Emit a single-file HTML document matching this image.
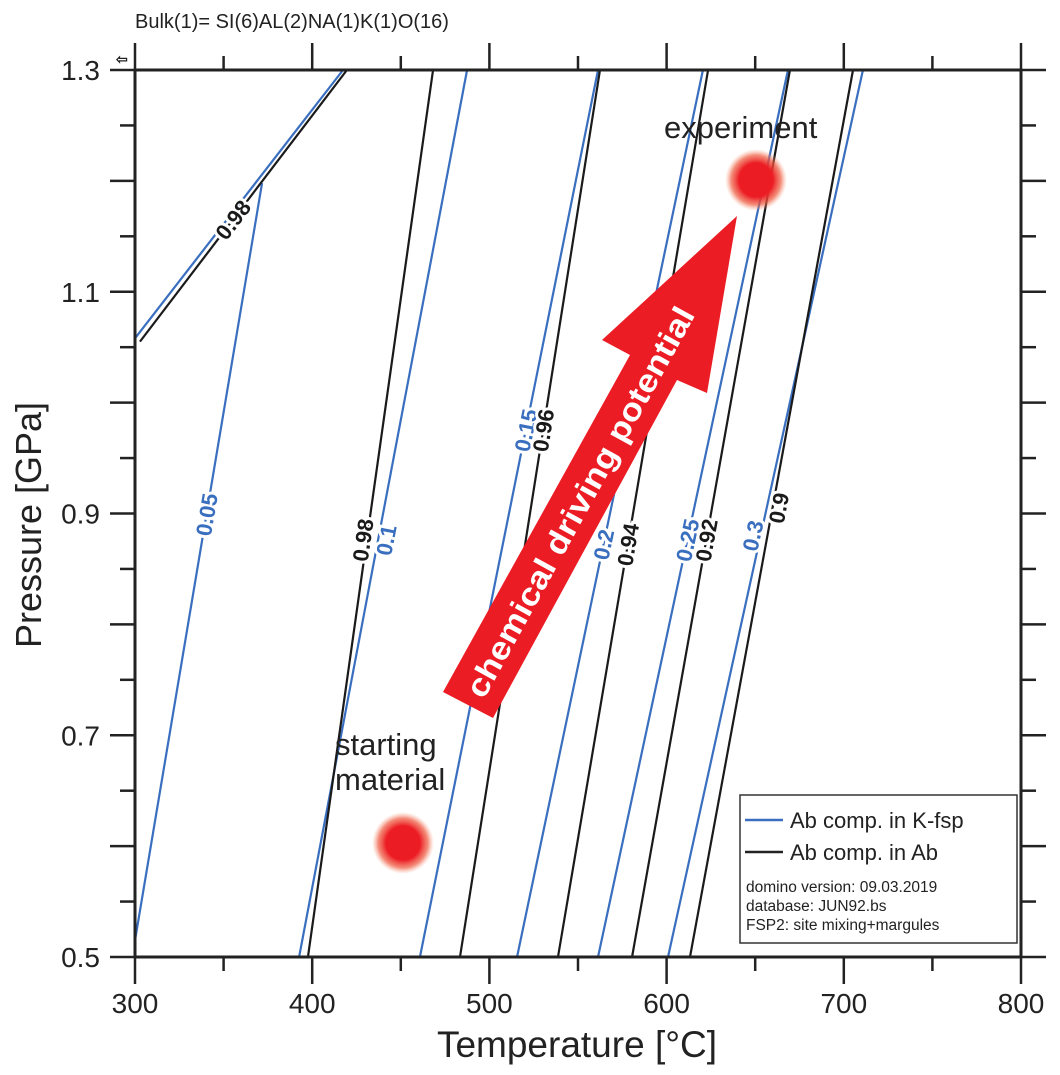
<!DOCTYPE html>
<html><head><meta charset="utf-8">
<style>
html,body{margin:0;padding:0;background:#fff;}
svg{display:block;font-family:"Liberation Sans",sans-serif;}
</style></head>
<body>
<svg id="chart" width="1060" height="1075" viewBox="0 0 1060 1075">
<defs>
<radialGradient id="dot" cx="50%" cy="50%" r="50%">
<stop offset="0%" stop-color="#ec1c24"/><stop offset="55%" stop-color="#ec1c24"/>
<stop offset="80%" stop-color="#ef5a40" stop-opacity="0.7"/><stop offset="100%" stop-color="#f6a080" stop-opacity="0"/>
</radialGradient>
</defs>
<text x="135" y="28" font-size="20" font-family="'Liberation Sans Narrow','Liberation Sans',sans-serif" fill="#222">Bulk(1)= SI(6)AL(2)NA(1)K(1)O(16)</text>
<text x="116" y="64" font-size="14" font-weight="bold" fill="#222">⇦</text>
<g id="lines"></g>
<g id="labels"></g>
<g id="axes"></g>
<g>
<polygon points="443,692 630,355 602,340 737,216 707,393 677,380 493,718" fill="#ec1c24"/>
<text transform="translate(580,502) rotate(-61.2)" text-anchor="middle" font-size="32" font-weight="bold" fill="#fff" dy="11" textLength="440" lengthAdjust="spacingAndGlyphs">chemical driving potential</text>
</g>
<circle cx="403" cy="843" r="31" fill="url(#dot)"/>
<circle cx="756" cy="180" r="31" fill="url(#dot)"/>
<text x="335" y="755" font-size="31" fill="#222">starting</text>
<text x="335" y="790" font-size="31" fill="#222">material</text>
<text x="664" y="138" font-size="31" fill="#222">experiment</text>
<g>
<rect x="740" y="795" width="277" height="148" fill="#fff" stroke="#333" stroke-width="1.5"/>
<line x1="745" y1="820" x2="783" y2="820" stroke="#3a6fbf" stroke-width="2.5"/>
<text x="790" y="828" font-size="22" fill="#222">Ab comp. in K-fsp</text>
<line x1="745" y1="852" x2="783" y2="852" stroke="#222" stroke-width="2.5"/>
<text x="790" y="860" font-size="22" fill="#222">Ab comp. in Ab</text>
<g font-size="15.5" font-family="'Liberation Sans Narrow','Liberation Sans',sans-serif" fill="#222">
<text x="746" y="892">domino version: 09.03.2019</text>
<text x="746" y="911">database: JUN92.bs</text>
<text x="746" y="930">FSP2: site mixing+margules</text>
</g>
</g>
</svg>
<script>
// data: each isopleth is a straight segment from (T0,P0) to (T1,P1)
const lineNames = ["0.05","0.1","0.15","0.2","0.25","0.3","0.98","0.98","0.96","0.94","0.92","0.9","0.05-upper"];
const lineKinds = ["kfsp","kfsp","kfsp","kfsp","kfsp","kfsp","ab","ab","ab","ab","ab","ab","kfsp"];
const lineT0 = [300,392.6,460.8,515.6,561.3,600.8,397.6,302.8,483.4,538.7,580.5,613.2,300];
const lineP0 = [0.515,0.5,0.5,0.5,0.5,0.5,0.5,1.055,0.5,0.5,0.5,0.5,1.058];
const lineT1 = [371.7,487.4,561.3,620.5,668.5,710.8,468.2,419.6,562.4,623.4,669.6,705.2,417.4];
const lineP1 = [1.198,1.3,1.3,1.3,1.3,1.3,1.3,1.3,1.3,1.3,1.3,1.3,1.3];
const labelText = ["0.05","0.1","0.15","0.2","0.25","0.3","0.98","0.98","0.96","0.94","0.92","0.9",""];
const labelP = [0.899,0.876,0.975,0.872,0.876,0.880,0.876,1.165,0.975,0.872,0.876,0.905,0];
const xTicks = [300,400,500,600,700,800];
const yTicks = [0.5,0.7,0.9,1.1,1.3];
// label nudges (pixels, style only) to keep paired labels side by side
const labelNudge = [0,8,0,0,0,-8,-4,0,0,0,0,6,0];

const X0=135,X1=1021,Y0=957,Y1=70;
const xs=t=>X0+(t-300)/500*(X1-X0);
const ys=p=>Y0-(p-0.5)/0.8*(Y0-Y1);
const NS="http://www.w3.org/2000/svg";
const mk=(tag,attrs,parent)=>{const e=document.createElementNS(NS,tag);for(const k in attrs)e.setAttribute(k,attrs[k]);parent.appendChild(e);return e;};
const gL=document.getElementById('lines'), gT=document.getElementById('labels'), gA=document.getElementById('axes');

for(let i=0;i<lineNames.length;i++){
  const col=lineKinds[i]==="kfsp"?"#3a6fbf":"#1a1a1a";
  const l=mk('line',{x1:xs(lineT0[i]),y1:ys(lineP0[i]),x2:xs(lineT1[i]),y2:ys(lineP1[i]),stroke:col,'stroke-width':2.2},gL);
  
  
  if(labelText[i]){
    const f=(labelP[i]-lineP0[i])/(lineP1[i]-lineP0[i]);
    const x=xs(lineT0[i])+f*(xs(lineT1[i])-xs(lineT0[i]))+labelNudge[i];
    const y=ys(labelP[i]);
    const ang=Math.atan2(ys(lineP1[i])-ys(lineP0[i]),xs(lineT1[i])-xs(lineT0[i]))*180/Math.PI;
    const t=mk('text',{transform:`translate(${x},${y}) rotate(${ang})`,'text-anchor':'middle',dy:8,'font-size':22,'font-weight':'bold','font-family':"'Liberation Sans Narrow','Liberation Sans',sans-serif",fill:col,stroke:'#fff','stroke-width':6,'paint-order':'stroke'},gT);
    t.textContent=labelText[i];
    
    
  }
}
const fr=mk('rect',{x:X0,y:Y1,width:X1-X0,height:Y0-Y1,fill:'none',stroke:'#222','stroke-width':3},gA);


for(let t=300;t<=800;t+=50){
  const major=t%100===0, x=xs(t), L=major?27:14;
  const a=mk('line',{x1:x,y1:Y0,x2:x,y2:Y0+L,stroke:'#222','stroke-width':2.5},gA);
  
  
  const b=mk('line',{x1:x,y1:Y1,x2:x,y2:Y1-L,stroke:'#222','stroke-width':2.5},gA);
  
  
}
xTicks.forEach(t=>{
  const e=mk('text',{x:xs(t),y:1013,'text-anchor':'middle','font-size':28,fill:'#222'},gA);
  e.textContent=t;
  
  
});
for(let k=0;k<=16;k++){
  const p=0.5+k*0.05, y=ys(p), L=(k%2===0)?25:15;
  const a=mk('line',{x1:X0-L,y1:y,x2:X0,y2:y,stroke:'#222','stroke-width':2.5},gA);
  
  
  const b=mk('line',{x1:X1,y1:y,x2:X1+L,y2:y,stroke:'#222','stroke-width':2.5},gA);
  
  
}
yTicks.forEach(p=>{
  const e=mk('text',{x:100,y:ys(p)+10,'text-anchor':'end','font-size':28,fill:'#222'},gA);
  e.textContent=p.toFixed(1);
  
  
});
const xt=mk('text',{x:577,y:1057,'text-anchor':'middle','font-size':37,fill:'#222'},gA);
xt.textContent='Temperature [°C]';


const yt=mk('text',{transform:'translate(41,525) rotate(-90)','text-anchor':'middle','font-size':36,fill:'#222'},gA);
yt.textContent='Pressure [GPa]';


</script>
</body></html>
